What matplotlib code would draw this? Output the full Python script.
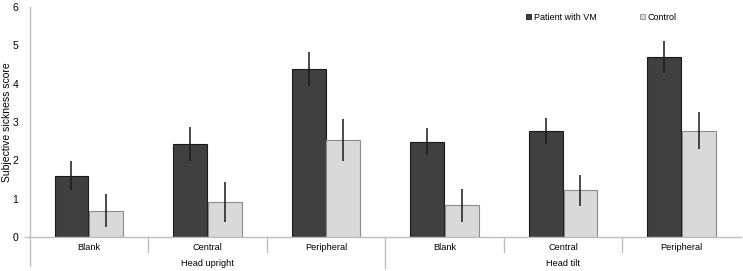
import matplotlib
matplotlib.use("Agg")
import matplotlib.pyplot as plt
from matplotlib.patches import Patch
import numpy as np

plt.rcParams['font.family'] = ['Liberation Sans', 'DejaVu Sans']

categories = ["Blank", "Central", "Peripheral", "Blank", "Central", "Peripheral"]
groups = ["Head upright", "Head tilt"]
patient = [1.60, 2.43, 4.38, 2.49, 2.77, 4.70]
patient_err = [0.38, 0.45, 0.45, 0.36, 0.34, 0.41]
control = [0.69, 0.91, 2.52, 0.83, 1.22, 2.77]
control_err = [0.44, 0.52, 0.55, 0.43, 0.40, 0.48]
series_names = ["Patient with VM", "Control"]
yticks = [0, 1, 2, 3, 4, 5, 6]

W, H = 743, 271
fig = plt.figure(figsize=(W / 100, H / 100), dpi=100)
ax_l, ax_r, ax_b, ax_t = 29.5, 741, 237, 7
ax = fig.add_axes([ax_l / W, (H - ax_b) / H, (ax_r - ax_l) / W, (ax_b - ax_t) / H])

x = np.arange(len(categories)) + 0.5
bw = 0.285
off = 0.146
axis_col = "#bfbfbf"

ax.bar(x - off, patient, bw, color="#404040", edgecolor="#1a1a1a", linewidth=0.8, zorder=2)
ax.bar(x + off, control, bw, color="#d9d9d9", edgecolor="#8c8c8c", linewidth=0.8, zorder=2)
ax.errorbar(x - off, patient, yerr=patient_err, fmt="none", ecolor="#1a1a1a", elinewidth=1.1, capsize=0, zorder=3)
ax.errorbar(x + off, control, yerr=control_err, fmt="none", ecolor="#1a1a1a", elinewidth=1.1, capsize=0, zorder=3)

ax.set_xlim(0, len(categories))
ax.set_ylim(0, 6)
ax.set_yticks(yticks)
ax.set_yticklabels([str(t) for t in yticks], fontsize=7.5)
ax.tick_params(axis="y", length=0, pad=8)
ax.set_xticks([])
for s in ["top", "right"]:
    ax.spines[s].set_visible(False)
ax.spines["left"].set_color(axis_col)
ax.spines["bottom"].set_color(axis_col)
ax.spines["left"].set_linewidth(1.0)
ax.spines["bottom"].set_linewidth(1.0)
ax.set_ylabel("Subjective sickness score", fontsize=7.5, va="center")
ax.yaxis.set_label_coords((7.5 - ax_l) / (ax_r - ax_l), 0.5)

trans = ax.get_xaxis_transform()
hpx = ax_b - ax_t
# extend left axis downward
ax.plot([0, 0], [0, -29 / hpx], transform=trans, color=axis_col, lw=1.0, clip_on=False)
# extend x-axis slightly left
ax.plot([-4.5 / ((ax_r - ax_l) / 6), 0], [0, 0], transform=trans, color=axis_col, lw=1.0, clip_on=False)
# category separators
for b in range(1, len(categories)):
    depth = 31 if b == 3 else 15
    ax.plot([b, b], [0, -depth / hpx], transform=trans, color=axis_col, lw=1.0, clip_on=False)

for xi, c in zip(x, categories):
    ax.text(xi, -11 / hpx, c, transform=trans, ha="center", va="center", fontsize=6.6)
for gi, g in enumerate(groups):
    ax.text(1.5 + 3 * gi, -26 / hpx, g, transform=trans, ha="center", va="center", fontsize=6.6)

handles = [Patch(facecolor="#404040", edgecolor="#1a1a1a", linewidth=0.6),
           Patch(facecolor="#d9d9d9", edgecolor="#8c8c8c", linewidth=0.6)]
fig.legend(handles, series_names, loc="center left", bbox_to_anchor=(526 / W, (H - 17) / H),
           ncol=2, frameon=False, fontsize=6.5, handlelength=0.55, handleheight=0.55,
           handletextpad=0.3, columnspacing=4.8, borderpad=0, borderaxespad=0)

fig.savefig("out.png", dpi=100)
